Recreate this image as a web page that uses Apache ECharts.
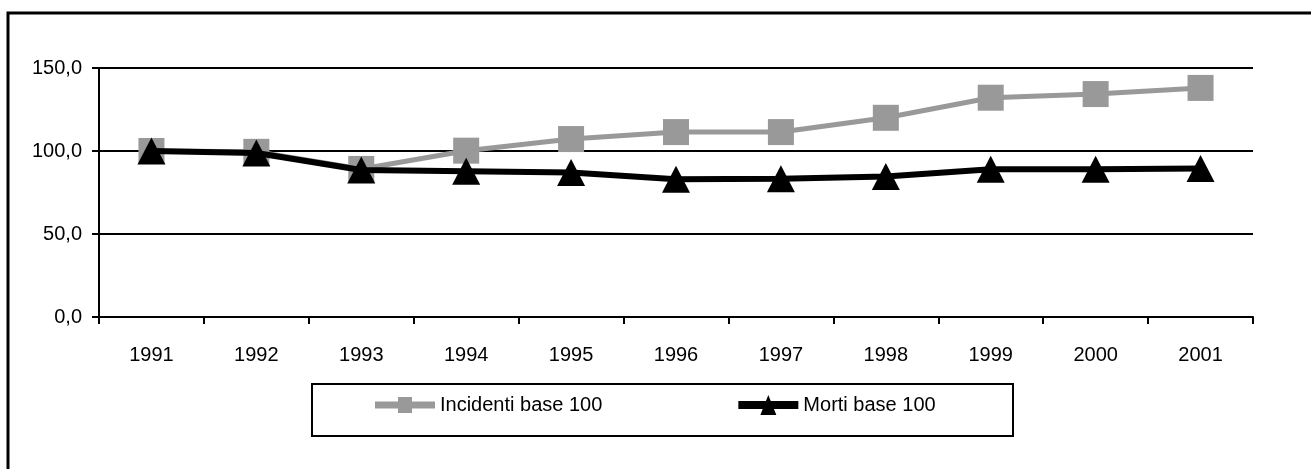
<!DOCTYPE html>
<html>
<head>
<meta charset="utf-8">
<script src="https://cdn.jsdelivr.net/npm/echarts@6/dist/echarts.min.js"></script>
<style>
html,body{margin:0;padding:0;background:#fff;}
#c{width:1311px;height:469px;}
</style>
</head>
<body>
<div id="c"></div>
<script>
const categories = ['1991','1992','1993','1994','1995','1996','1997','1998','1999','2000','2001'];
const incidenti = [100, 99.5, 89.2, 100.2, 107.2, 111.4, 111.4, 120, 132.1, 134.3, 138];
const morti = [100, 98.8, 88.6, 87.8, 87, 83, 83.3, 84.7, 89, 89, 89.5];
const yTicks = [0, 50, 100, 150];
const seriesNames = ['Incidenti base 100', 'Morti base 100'];

const chart = echarts.init(document.getElementById('c'), null, {renderer: 'canvas'});
const FONT = 'Liberation Sans, Arial, sans-serif';
const iconIncidenti = 'path://M0 4.5L23 4.5L23 0L37 0L37 4.5L60 4.5L60 11.5L37 11.5L37 16L23 16L23 11.5L0 11.5Z';
const iconMorti = 'path://M0 6L27.6 6L30 0L32.4 6L60 6L60 14L35.6 14L38 20L22 20L24.4 14L0 14Z';
chart.setOption({
  animation: false,
  backgroundColor: '#fff',
  graphic: [
    {type: 'rect', shape: {x: 8, y: 13, width: 1400, height: 600}, style: {fill: 'none', stroke: '#000', lineWidth: 3}, z: 0},
    {type: 'rect', shape: {x: 312, y: 384, width: 701, height: 52}, style: {fill: 'none', stroke: '#000', lineWidth: 2}, z: 0}
  ],
  grid: {left: 99, right: 58, top: 68, bottom: 152, containLabel: false},
  legend: {
    left: 375, top: 395, padding: 0, itemWidth: 60, itemHeight: 20, itemGap: 136,
    textStyle: {fontFamily: FONT, fontSize: 20, color: '#000', padding: [12, 0, 0, 0]},
    data: [
      {name: seriesNames[0], icon: iconIncidenti},
      {name: seriesNames[1], icon: iconMorti}
    ]
  },
  xAxis: {
    type: 'category', data: categories, boundaryGap: true,
    axisLine: {lineStyle: {color: '#000', width: 2}},
    axisTick: {show: true, length: 7, lineStyle: {color: '#000', width: 2}, alignWithLabel: false},
    axisLabel: {margin: 28, fontFamily: FONT, fontSize: 20, color: '#000'}
  },
  yAxis: {
    type: 'value', min: 0, max: 150, interval: 50,
    axisLine: {show: true, lineStyle: {color: '#000', width: 2}},
    axisTick: {show: true, length: 7, lineStyle: {color: '#000', width: 2}},
    splitLine: {show: true, lineStyle: {color: '#000', width: 2}},
    axisLabel: {margin: 17, fontFamily: FONT, fontSize: 20, color: '#000',
      formatter: v => yTicks.includes(v) ? v.toFixed(1).replace('.', ',') : ''}
  },
  series: [
    {name: seriesNames[0], type: 'line', data: incidenti, symbol: 'rect', symbolSize: 26,
     lineStyle: {color: '#999999', width: 5}, itemStyle: {color: '#999999'}, z: 3},
    {name: seriesNames[1], type: 'line', data: morti, symbol: 'triangle', symbolSize: [28, 27],
     lineStyle: {color: '#000', width: 6}, itemStyle: {color: '#000'}, z: 4}
  ]
});
</script>
</body>
</html>
